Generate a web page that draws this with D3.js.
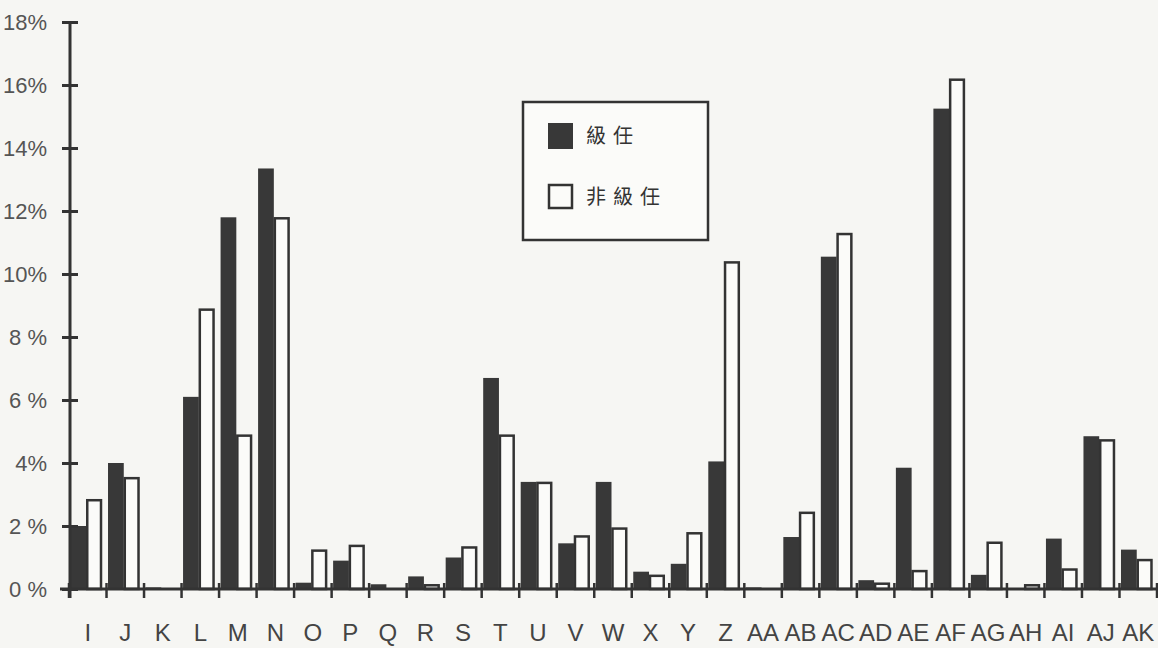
<!DOCTYPE html>
<html>
<head>
<meta charset="utf-8">
<script src="https://cdn.jsdelivr.net/npm/d3@7"></script>
<style>
  body { margin: 0; background: #f6f6f3; }
  svg { display: block; }
</style>
</head>
<body>
<svg id="chart" width="1158" height="648"></svg>
<script>
// categories along the x axis
const categories = ["I","J","K","L","M","N","O","P","Q","R","S","T","U","V","W","X","Y","Z",
  "AA","AB","AC","AD","AE","AF","AG","AH","AI","AJ","AK"];
// series names (legend)
const seriesNames = ["級任", "非級任"];
// 級任 percentages
const classTeacher = [2.0, 4.0, 0.05, 6.1, 11.8, 13.35, 0.2, 0.9, 0.15, 0.4, 1.0, 6.7, 3.4, 1.45, 3.4, 0.55, 0.8, 4.05,
  0.05, 1.65, 10.55, 0.28, 3.85, 15.25, 0.45, 0, 1.6, 4.85, 1.25];
// 非級任 percentages
const nonClassTeacher = [2.85, 3.55, 0, 8.9, 4.9, 11.8, 1.25, 1.4, 0, 0.15, 1.35, 4.9, 3.4, 1.7, 1.95, 0.45, 1.8, 10.4,
  0, 2.45, 11.3, 0.2, 0.6, 16.2, 1.5, 0.15, 0.65, 4.75, 0.95];
// y tick values and labels
const yTicks = [0, 2, 4, 6, 8, 10, 12, 14, 16, 18];
const yTickLabels = ["0 %", "2 %", "4%", "6 %", "8 %", "10%", "12%", "14%", "16%", "18%"];

const svg = d3.select("#chart");
const ink = "#333";

const x = d3.scaleBand().domain(categories).range([69, 1157]).paddingInner(0);
const xSub = d3.scaleBand().domain(seriesNames).range([1.5, 33]).padding(0);
const y = d3.scaleLinear().domain([0, 18]).range([589, 22]);

const rows = categories.map((c, i) => ({ cat: c, values: [classTeacher[i], nonClassTeacher[i]] }));

// bars
const groups = svg.append("g").selectAll("g")
  .data(rows)
  .join("g")
  .attr("transform", d => `translate(${x(d.cat)},0)`);

groups.selectAll("rect")
  .data(d => d.values.map((v, k) => ({ key: seriesNames[k], v })))
  .join("rect")
  .filter(d => d.v > 0)
  .attr("x", d => xSub(d.key) + (d.key === "非級任" ? 1 : 0))
  .attr("width", d => xSub.bandwidth() - (d.key === "非級任" ? 2 : 0))
  .attr("y", d => y(d.v) + (d.key === "非級任" ? 1 : 0))
  .attr("height", d => Math.max(2, y(0) - y(d.v) - (d.key === "非級任" ? 1 : 0)))
  .attr("fill", d => d.key === "級任" ? "#383838" : "#fbfbf9")
  .attr("stroke", d => d.key === "級任" ? "none" : ink)
  .attr("stroke-width", 2.5);

// x axis
const xAxisLine = svg.append("g");
xAxisLine.append("line")
  .attr("x1", 60).attr("x2", 1158)
  .attr("y1", y(0)).attr("y2", y(0))
  .attr("stroke", ink).attr("stroke-width", 3);

xAxisLine.selectAll("line.tick")
  .data(categories.concat(["end"]))
  .join("line")
  .attr("class", "tick")
  .attr("x1", (d, i) => i < categories.length ? x(d) : x.range()[1])
  .attr("x2", (d, i) => i < categories.length ? x(d) : x.range()[1])
  .attr("y1", y(0) - 6).attr("y2", y(0) + 9)
  .attr("stroke", ink).attr("stroke-width", 2.5);

xAxisLine.selectAll("text")
  .data(categories)
  .join("text")
  .attr("x", d => x(d) + x.bandwidth() / 2)
  .attr("y", 641)
  .attr("text-anchor", "middle")
  .attr("font-family", "'Liberation Sans', Arial, sans-serif")
  .attr("font-size", 24)
  .attr("fill", "#444")
  .text(d => d);

// y axis
const yAxis = d3.axisLeft(y)
  .tickValues(yTicks)
  .tickFormat((d, i) => yTickLabels[i])
  .tickSizeInner(8)
  .tickSizeOuter(0)
  .tickPadding(15);

const yG = svg.append("g")
  .attr("transform", "translate(70,0)")
  .call(yAxis);

yG.select(".domain")
  .attr("stroke", ink).attr("stroke-width", 3)
  .attr("d", `M0,${y(18)}V${y(0) + 9}`);
yG.selectAll(".tick line")
  .attr("x1", -8).attr("x2", 8)
  .attr("stroke", ink).attr("stroke-width", 3);
yG.selectAll(".tick text")
  .attr("font-family", "'Liberation Sans', Arial, sans-serif")
  .attr("font-size", 22)
  .attr("fill", "#555")
  .attr("dy", "0.36em");

// legend
const legend = svg.append("g").attr("transform", "translate(523,102)");
legend.append("rect")
  .attr("width", 185).attr("height", 138)
  .attr("fill", "#fbfbf9").attr("stroke", ink).attr("stroke-width", 2.5);

const legendItems = legend.selectAll("g.item")
  .data(seriesNames)
  .join("g")
  .attr("class", "item")
  .attr("transform", (d, i) => `translate(25,${21 + i * 61})`);

legendItems.append("rect")
  .attr("x", (d, i) => i ? 1 : 0).attr("y", (d, i) => i ? 1 : 0)
  .attr("width", (d, i) => i ? 23 : 25).attr("height", (d, i) => i ? 23 : 26)
  .attr("fill", (d, i) => i ? "#fbfbf9" : "#383838")
  .attr("stroke", (d, i) => i ? ink : "none")
  .attr("stroke-width", 2.5);

legendItems.append("text")
  .attr("x", 38).attr("y", 20)
  .attr("font-family", "'Noto Sans CJK TC', 'Noto Sans CJK SC', sans-serif")
  .attr("font-size", 20)
  .attr("letter-spacing", 7)
  .attr("fill", "#333")
  .text(d => d);
</script>
</body>
</html>
